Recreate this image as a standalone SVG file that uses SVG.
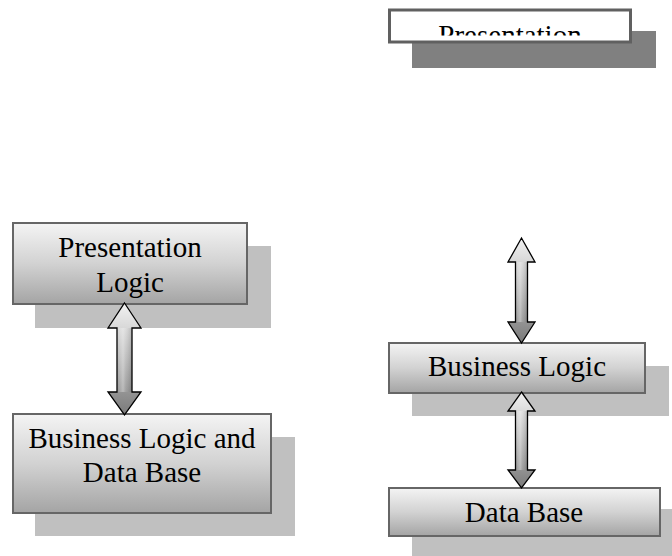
<svg xmlns="http://www.w3.org/2000/svg" width="672" height="556" viewBox="0 0 672 556">
  <style>
    .box { fill: url(#boxGrad); stroke: #666; stroke-width: 2; }
    .shadow { fill: #c0c0c0; }
    .label { font-family: "Liberation Serif", "Times New Roman", serif; font-size: 29px; fill: #000; text-anchor: middle; }
    .arrow { fill: url(#arrGrad); stroke: #000; stroke-width: 1.3; stroke-linejoin: miter; }
    .arrowShade { fill: url(#arrShade); stroke: none; }
  </style>
  <defs>
    <linearGradient id="boxGrad" x1="0" y1="0" x2="0" y2="1">
      <stop offset="0" stop-color="#f4f4f4"/>
      <stop offset="0.5" stop-color="#d2d2d2"/>
      <stop offset="1" stop-color="#a4a4a4"/>
    </linearGradient>
    <linearGradient id="arrGrad" x1="0" y1="0" x2="0" y2="1">
      <stop offset="0" stop-color="#f2f2f2"/>
      <stop offset="0.5" stop-color="#b8b8b8"/>
      <stop offset="1" stop-color="#7a7a7a"/>
    </linearGradient>
    <linearGradient id="arrShade" x1="0" y1="0" x2="1" y2="0">
      <stop offset="0" stop-color="#fff" stop-opacity="0"/>
      <stop offset="0.4" stop-color="#fff" stop-opacity="0.35"/>
      <stop offset="0.6" stop-color="#fff" stop-opacity="0.1"/>
      <stop offset="1" stop-color="#000" stop-opacity="0.15"/>
    </linearGradient>
    <clipPath id="topClip">
      <rect x="390" y="11" width="239" height="24.5"/>
    </clipPath>
  </defs>

  <g id="node-presentation-top">
    <rect x="412" y="31" width="244" height="37" fill="#808080"/>
    <rect x="389.5" y="10" width="241" height="32" fill="#fff" stroke="#606060" stroke-width="3"/>
    <text class="label" x="510" y="45" clip-path="url(#topClip)">Presentation</text>
  </g>

  <g id="node-presentation-logic">
    <rect class="shadow" x="35" y="246" width="236" height="82"/>
    <rect class="box" x="13" y="223" width="234" height="81"/>
    <text class="label" x="130" y="257">Presentation</text>
    <text class="label" x="130" y="292">Logic</text>
  </g>

  <g id="node-business-db">
    <rect class="shadow" x="35" y="437" width="260" height="99"/>
    <rect class="box" x="13" y="414" width="258" height="99"/>
    <text class="label" x="142" y="448">Business Logic and</text>
    <text class="label" x="142" y="482">Data Base</text>
  </g>

  <g id="node-business-logic">
    <rect class="shadow" x="412" y="366" width="257" height="50"/>
    <rect class="box" x="389" y="343" width="256" height="50"/>
    <text class="label" x="517" y="376">Business Logic</text>
  </g>

  <g id="node-data-base">
    <rect class="shadow" x="412" y="509" width="260" height="47"/>
    <rect class="box" x="389" y="488" width="271" height="48"/>
    <text class="label" x="524" y="522">Data Base</text>
  </g>

  <g id="connectors">
    <path class="arrow" d="M124.5,303 L141,328 L132,328 L132,392 L141,392 L124.5,415 L108,392 L117,392 L117,328 L108,328 Z"/>
    <path class="arrowShade" d="M117,328 L132,328 L132,392 L117,392 Z"/>
    <path class="arrow" d="M521.5,238 L535,262 L527.5,262 L527.5,322 L535,322 L521.5,343 L508,322 L515.5,322 L515.5,262 L508,262 Z"/>
    <path class="arrowShade" d="M515.5,262 L527.5,262 L527.5,322 L515.5,322 Z"/>
    <path class="arrow" d="M521.5,392 L535,411 L527.5,411 L527.5,470 L535,470 L521.5,488 L508,470 L515.5,470 L515.5,411 L508,411 Z"/>
    <path class="arrowShade" d="M515.5,411 L527.5,411 L527.5,470 L515.5,470 Z"/>
  </g>
</svg>
